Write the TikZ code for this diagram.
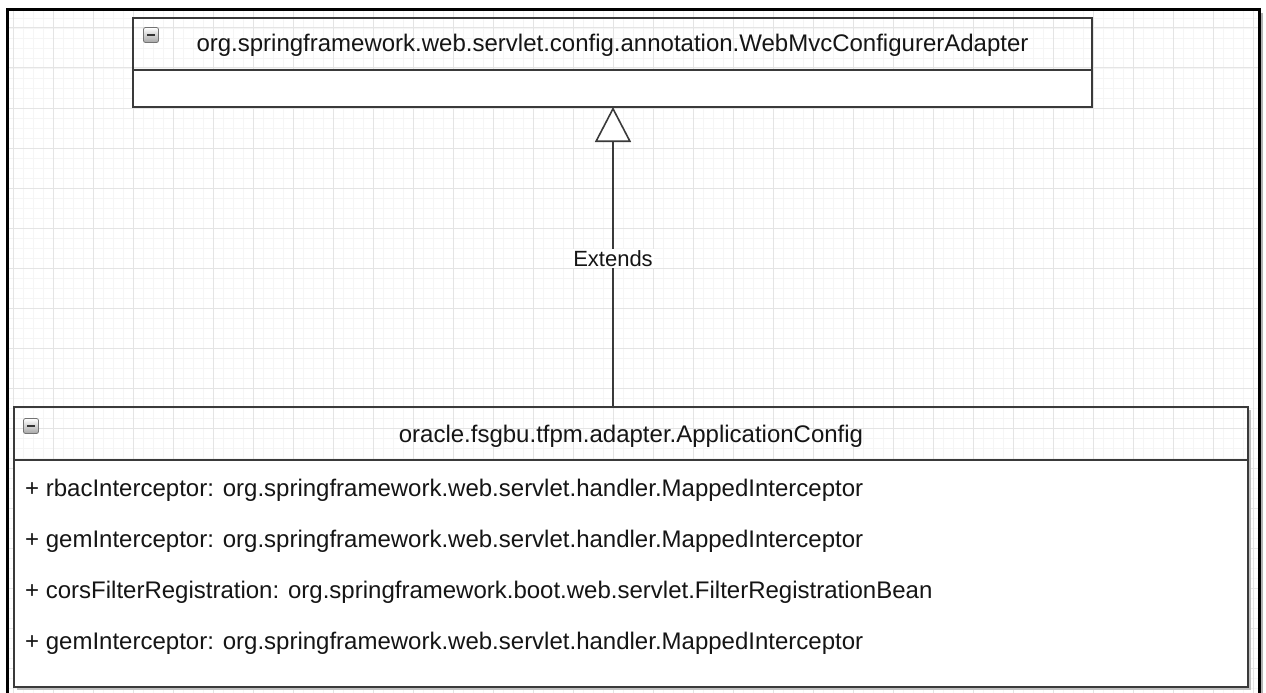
\documentclass[tikz,border=0pt]{standalone}
\usepackage{fontspec}
\setmainfont{Liberation Sans}
\usetikzlibrary{arrows.meta}
\definecolor{gridmajor}{HTML}{E4E4E4}
\definecolor{gridminor}{HTML}{F5F5F5}
\definecolor{boxline}{HTML}{3A3A3A}
\definecolor{txt}{HTML}{151515}
\begin{document}
\begin{tikzpicture}[x=1pt,y=-1pt,
  umlbox/.style={draw=boxline, line width=1.8pt, anchor=north west, inner sep=0pt, outer sep=0pt},
  lbl/.style={inner sep=0pt, text=txt, font=\fontsize{24}{28}\selectfont},
  icon/.style={draw=black!55, line width=0.8pt, rounded corners=2pt, minimum size=15pt, inner sep=0pt,
    top color=white, bottom color=black!35,
    path picture={\draw[black!80, line width=2pt]
      ([xshift=3.5pt]path picture bounding box.west) -- ([xshift=-3.5pt]path picture bounding box.east);}},
  conn/.style={draw=boxline, line width=1.6pt},
  gen/.style={-{Triangle[open, length=35pt, width=36pt, line width=1.6pt, fill=white]}}
]
\useasboundingbox (0,0) rectangle (1266,693);
\fill[white] (0,0) rectangle (1266,693);
% background grid
\begin{scope}
  \clip (7,10) rectangle (1259,693);
  \foreach \x in {3,13,...,1263} \draw[gridminor, line width=0.8pt] (\x,10) -- (\x,693);
  \foreach \y in {8,18,...,698} \draw[gridminor, line width=0.8pt] (7,\y) -- (1259,\y);
  \foreach \x in {13,53,...,1253} \draw[gridmajor, line width=1pt] (\x,10) -- (\x,693);
  \foreach \y in {28,68,...,668} \draw[gridmajor, line width=1pt] (7,\y) -- (1259,\y);
\end{scope}
% outer frame
\draw[black!30, line width=2pt] (1262,13) -- (1262,693);
\draw[black, line width=3pt] (7,700) -- (7,10) -- (1259,10) -- (1259,700);

% superclass box
\fill[white] (133,70) rectangle (1092,107);
\node[umlbox, minimum width=959pt, minimum height=89pt] (sup) at (133,18) {};
\draw[boxline, line width=1.8pt] (133,70) -- (1092,70);
\node[icon] (supicon) at (151,35) {};
\node[lbl, anchor=base] (supname) at (612.5,51.5)
  {org.springframework.web.servlet.config.annotation.WebMvcConfigurerAdapter};

% subclass box
\draw[black!25, line width=2pt] (1250,410) -- (1250,689) -- (17,689);
\fill[white] (14,460) rectangle (1248,687);
\node[umlbox, minimum width=1234pt, minimum height=280pt] (sub) at (14,407) {};
\draw[boxline, line width=1.8pt] (14,460) -- (1248,460);
\node[icon] (subicon) at (31,426) {};
\node[lbl, anchor=base] (subname) at (631,442) {oracle.fsgbu.tfpm.adapter.ApplicationConfig};
\node[lbl, anchor=base west] (attr1) at (25,496) {+ rbacInterceptor: org.springframework.web.servlet.handler.MappedInterceptor};
\node[lbl, anchor=base west] (attr2) at (25,547) {+ gemInterceptor: org.springframework.web.servlet.handler.MappedInterceptor};
\node[lbl, anchor=base west] (attr3) at (25,598.5) {+ corsFilterRegistration: org.springframework.boot.web.servlet.FilterRegistrationBean};
\node[lbl, anchor=base west] (attr4) at (25,649.5) {+ gemInterceptor: org.springframework.web.servlet.handler.MappedInterceptor};

% generalization
\coordinate (arrx) at (613,0);
\draw[conn, gen] (sub.north -| arrx) -- (sup.south -| arrx);
\node[lbl, anchor=base, fill=white, inner sep=1.5pt, font=\fontsize{22}{26}\selectfont] (ext) at (613,266) {Extends};
\end{tikzpicture}
\end{document}
